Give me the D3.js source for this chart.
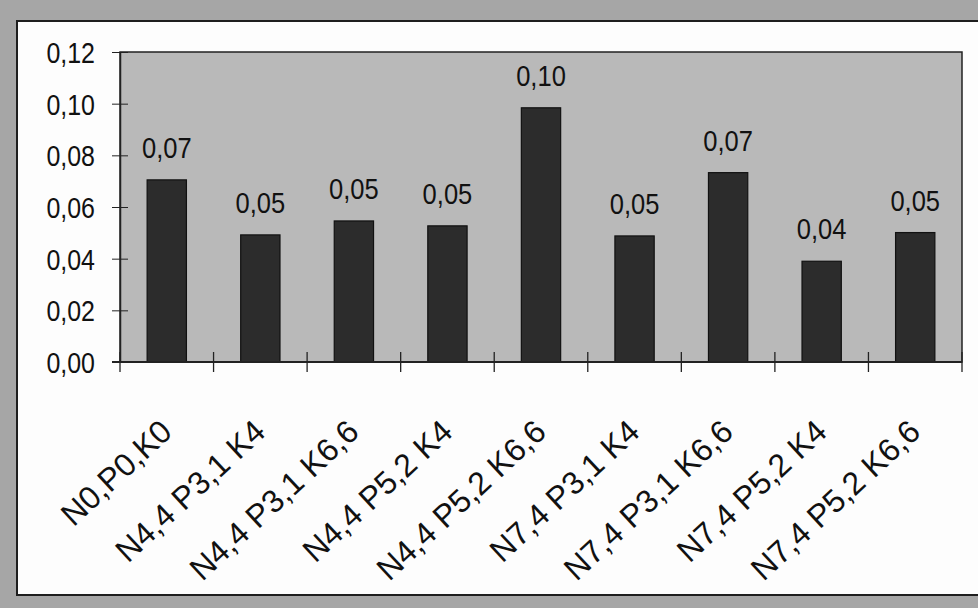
<!DOCTYPE html>
<html>
<head>
<meta charset="utf-8">
<script src="https://cdn.jsdelivr.net/npm/d3@7"></script>
<style>
  html, body { margin: 0; padding: 0; background: #a8a8a8; }
  svg { display: block; }
  text { font-family: "Liberation Sans", Arial, sans-serif; fill: #111; }
</style>
</head>
<body>
<svg id="chart" width="978" height="608"></svg>
<script>
// Treatment combinations (N, P, K rates)
const categories = [
  "N0,P0,K0",
  "N4,4 P3,1 K4",
  "N4,4 P3,1 K6,6",
  "N4,4 P5,2 K4",
  "N4,4 P5,2 K6,6",
  "N7,4 P3,1 K4",
  "N7,4 P3,1 K6,6",
  "N7,4 P5,2 K4",
  "N7,4 P5,2 K6,6"
];
const values = [0.0705, 0.0492, 0.0546, 0.0527, 0.0984, 0.0488, 0.0733, 0.0390, 0.0501];
const yTicks = [0, 0.02, 0.04, 0.06, 0.08, 0.10, 0.12];

const W = 978, H = 608;
const plot = { left: 120, top: 52, right: 962, bottom: 362 };

const svg = d3.select("#chart");
const fmt = v => d3.format(".2f")(v).replace(".", ",");

// narrow the glyphs a little, as in a condensed sans face
function condense(sel, k) {
  sel.each(function () {
    const len = this.getComputedTextLength();
    d3.select(this).attr("textLength", len * k).attr("lengthAdjust", "spacingAndGlyphs");
  });
}

// outer frame and white chart panel
svg.append("rect").attr("x", 0).attr("y", 0).attr("width", W).attr("height", H).attr("fill", "#a6a6a6");
svg.append("rect").attr("x", 17).attr("y", 21).attr("width", W - 16).attr("height", 574)
  .attr("fill", "#fdfdfd").attr("stroke", "#1e1e1e").attr("stroke-width", 2);

const x = d3.scaleBand().domain(categories).range([plot.left, plot.right]).paddingInner(0.58).paddingOuter(0.29);
const y = d3.scaleLinear().domain([0, 0.12]).range([plot.bottom, plot.top]);

// plot area
svg.append("rect")
  .attr("x", plot.left).attr("y", plot.top)
  .attr("width", plot.right - plot.left).attr("height", plot.bottom - plot.top)
  .attr("fill", "#b9b9b9").attr("stroke", "#222").attr("stroke-width", 1.5);

// bars
svg.append("g").selectAll("rect").data(values).join("rect")
  .attr("x", (d, i) => x(categories[i]))
  .attr("y", d => y(d))
  .attr("width", x.bandwidth())
  .attr("height", d => y(0) - y(d))
  .attr("fill", "#2c2c2c").attr("stroke", "#111").attr("stroke-width", 1.2);

// value labels
svg.append("g").selectAll("text").data(values).join("text")
  .attr("x", (d, i) => x(categories[i]) + x.bandwidth() / 2)
  .attr("y", d => y(d) - 22)
  .attr("text-anchor", "middle")
  .attr("font-size", 29)
  .text(d => fmt(d))
  .call(condense, 0.88);

// y axis
const yAxis = d3.axisLeft(y).tickValues(yTicks).tickSizeInner(8).tickSizeOuter(0).tickPadding(17).tickFormat(fmt);
const gy = svg.append("g").attr("transform", `translate(${plot.left},0)`).call(yAxis);
gy.select(".domain").attr("stroke", "#222").attr("stroke-width", 1.5);
gy.selectAll(".tick line").attr("stroke", "#222").attr("x2", 8).attr("x1", -8);
gy.selectAll(".tick text").attr("font-size", 29).attr("dy", "0.36em").attr("fill", "#111").call(condense, 0.86);

// x axis: tick marks sit between categories and cross the axis line
const boundaries = d3.range(categories.length + 1).map(i => plot.left + i * (plot.right - plot.left) / categories.length);
svg.append("line").attr("x1", plot.left - 8).attr("x2", plot.right)
  .attr("y1", plot.bottom).attr("y2", plot.bottom).attr("stroke", "#222").attr("stroke-width", 1.8);
svg.append("g").selectAll("line").data(boundaries).join("line")
  .attr("x1", d => d).attr("x2", d => d)
  .attr("y1", plot.bottom - 10).attr("y2", plot.bottom + 10)
  .attr("stroke", "#222").attr("stroke-width", 1.3);

// rotated category labels
svg.append("g").selectAll("text").data(categories).join("text")
  .attr("transform", d => `translate(${x(d) + x.bandwidth() / 2 + 7},${434}) rotate(-43)`)
  .attr("text-anchor", "end")
  .attr("font-size", 32)
  .text(d => d);
</script>
</body>
</html>
